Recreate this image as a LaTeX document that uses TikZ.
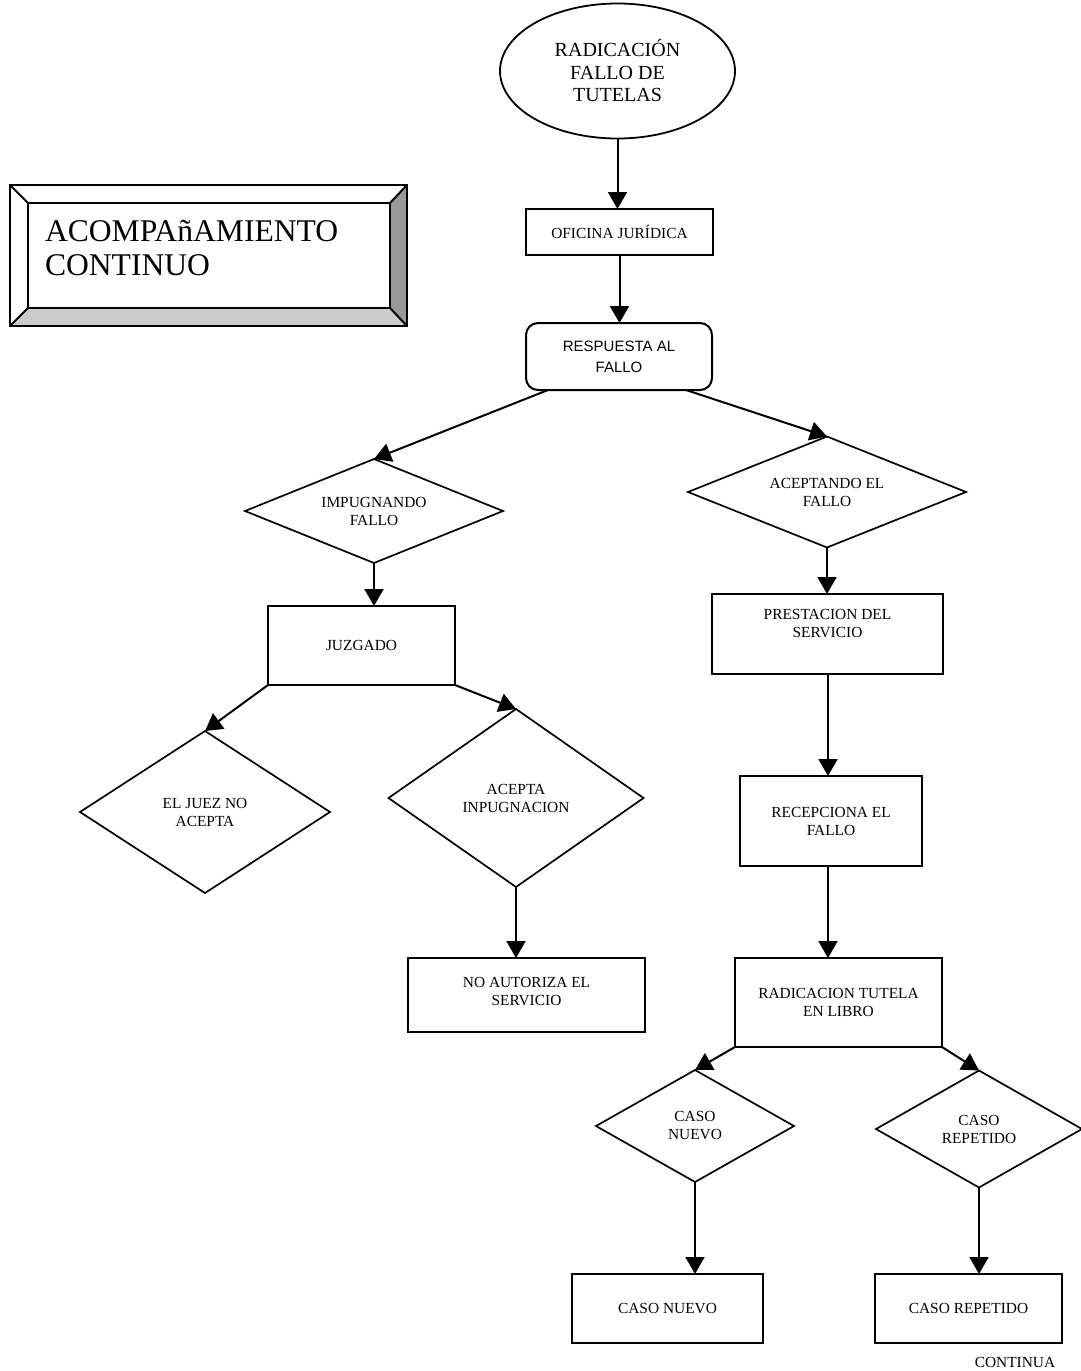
\documentclass[tikz,border=0pt]{standalone}
\usepackage{fontspec}
\setmainfont{Liberation Serif}
\newfontfamily\sansfam{Liberation Sans}
\usetikzlibrary{shapes.geometric,arrows.meta}
\definecolor{bevelside}{HTML}{999999}
\definecolor{bevelbottom}{HTML}{CCCCCC}
\begin{document}
\begin{tikzpicture}[x=1pt,y=-1pt,
  every node/.style={inner sep=0pt, outer sep=0pt},
  sz/.style 2 args={minimum width=#1pt, minimum height=#2pt},
  txt/.style={font=\fontsize{15.4}{18}\selectfont, align=center},
  procbox/.style={draw, line width=2pt, rectangle, txt},
  choice/.style={draw, line width=1.7pt, diamond, txt},
  flow/.style={line width=2pt, -{Triangle[width=19pt,length=17pt]}},
  frame/.style={line width=2pt, line join=miter}]

\useasboundingbox (0,0) rectangle (1080,1371);

% bevelled title panel
\coordinate (po1) at (10,185);
\coordinate (po2) at (407,185);
\coordinate (po3) at (407,326);
\coordinate (po4) at (10,326);
\coordinate (pi1) at (28,203);
\coordinate (pi2) at (390,203);
\coordinate (pi3) at (390,308);
\coordinate (pi4) at (28,308);
\fill[bevelside] (po2) -- (po3) -- (pi3) -- (pi2) -- cycle;
\fill[bevelbottom] (po4) -- (po3) -- (pi3) -- (pi4) -- cycle;
\draw[frame] (po1) -- (po2) -- (po3) -- (po4) -- cycle;
\draw[frame] (pi1) -- (pi2) -- (pi3) -- (pi4) -- cycle;
\draw[frame] (po1) -- (pi1) (po2) -- (pi2) (po3) -- (pi3) (po4) -- (pi4);
\node[anchor=west, align=left, font=\fontsize{31.6}{34}\selectfont] (title) at (45,248.5)
  {ACOMPAñAMIENTO\\CONTINUO};

% main flow
\node[draw, ellipse, line width=1.8pt, sz={235}{135},
      font=\fontsize{20}{22.5}\selectfont, align=center] (start) at (617.5,71)
  {RADICACIÓN\\FALLO DE\\TUTELAS};
\node[procbox, sz={187}{46}] (ofi) at (619.5,232) {OFICINA JURÍDICA};
\node[draw, line width=2pt, rounded corners=12pt, sz={186}{67},
      font=\sansfam\fontsize{15}{21}\selectfont, align=center] (resp) at (619,356.5)
  {RESPUESTA AL\\FALLO};

% left branch
\node[choice, sz={258}{104}, shape aspect=2.48] (imp) at (374,511) {IMPUGNANDO\\FALLO};
\node[procbox, sz={187}{79}] (juz) at (361.5,645.5) {JUZGADO};
\node[choice, sz={250}{162}, shape aspect=1.54] (juez) at (205,812) {EL JUEZ NO\\ACEPTA};
\node[choice, sz={255}{178}, shape aspect=1.43] (acimp) at (516,798) {ACEPTA\\INPUGNACION};
\node[draw, line width=2pt, sz={237}{74},
      label={[txt, yshift=3.5pt]center:{NO AUTORIZA EL\\SERVICIO}}] (noaut) at (526.5,995) {};

% right branch
\node[choice, sz={278}{111}, shape aspect=2.5] (acfal) at (827,492) {ACEPTANDO EL\\FALLO};
\node[draw, line width=2pt, sz={231}{80},
      label={[txt, yshift=10pt]center:{PRESTACION DEL\\SERVICIO}}] (prest) at (827.5,634) {};
\node[procbox, sz={182}{90}] (recep) at (831,821) {RECEPCIONA EL\\FALLO};
\node[procbox, sz={207}{89}] (radic) at (838.5,1002.5) {RADICACION TUTELA\\EN LIBRO};
\node[choice, sz={198}{112}, shape aspect=1.77] (cnq) at (695,1126) {CASO\\NUEVO};
\node[choice, sz={206}{117}, shape aspect=1.76] (crq) at (979,1129) {CASO\\REPETIDO};
\node[procbox, sz={191}{69}] (cn) at (667.5,1308.5) {CASO NUEVO};
\node[procbox, sz={187}{69}] (cr) at (968.5,1308.5) {CASO REPETIDO};
\node[txt] (cont) at (1015,1362) {CONTINUA};

% connectors
\draw[flow] (start.south) -- (start.south |- ofi.north);
\draw[flow] (ofi.south) -- (ofi.south |- resp.north);
\draw[flow] ([xshift=22pt]resp.south west) -- (imp.north);
\draw[flow] ([xshift=-26pt]resp.south east) -- (acfal.north);
\draw[flow] (imp.south) -- (imp.south |- juz.north);
\draw[flow] (juz.south west) -- (juez.north);
\draw[flow] (juz.south east) -- (acimp.north);
\draw[flow] (acimp.south) -- (acimp.south |- noaut.north);
\draw[flow] (acfal.south) -- (acfal.south |- prest.north);
\draw[flow] ([xshift=0.5pt]prest.south) -- ([xshift=0.5pt]prest.south |- recep.north);
\draw[flow] ([xshift=-3pt]recep.south) -- ([xshift=-3pt]recep.south |- radic.north);
\draw[flow] (radic.south west) -- (cnq.north);
\draw[flow] (radic.south east) -- (crq.north);
\draw[flow] (cnq.south) -- (cnq.south |- cn.north);
\draw[flow] (crq.south) -- (crq.south |- cr.north);
\end{tikzpicture}
\end{document}
